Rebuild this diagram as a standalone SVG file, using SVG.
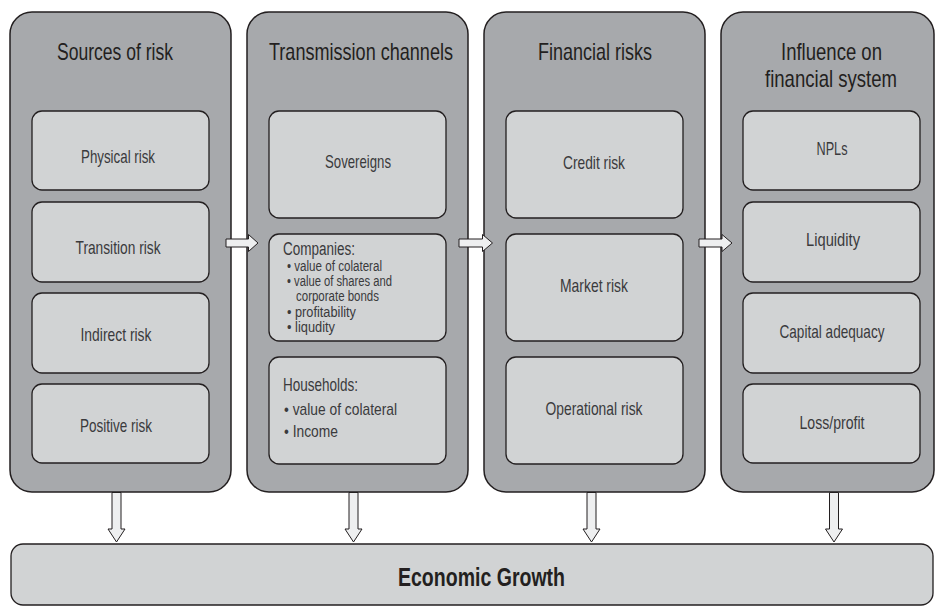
<svg xmlns="http://www.w3.org/2000/svg" width="935" height="607" viewBox="0 0 935 607">
<style>
  .col{fill:#a7a9ac;stroke:#231f20;stroke-width:1.5}
  .box{fill:#d1d3d4;stroke:#231f20;stroke-width:1.3}
  .arr{fill:#eeeff0;stroke:#231f20;stroke-width:1}
  text{font-family:"Liberation Sans Narrow","Liberation Sans",Arial,sans-serif}
  .title{font-size:24px;fill:#231f20;text-anchor:middle}
  .lbl{font-size:19px;fill:#3a3a3c;text-anchor:middle}
  .head{font-size:18px;fill:#3a3a3c}
  .head2{font-size:19px;fill:#3a3a3c}
  .item{font-size:14px;fill:#3a3a3c}
  .item2{font-size:17px;fill:#3a3a3c}
  .big{font-size:25px;font-weight:bold;fill:#231f20;text-anchor:middle}
</style>
<rect width="935" height="607" fill="#ffffff"/>

<g id="col-sources">
  <rect class="col" x="10" y="12" width="221" height="480" rx="22"/>
  <text class="title" x="115" y="60" textLength="116" lengthAdjust="spacingAndGlyphs">Sources of risk</text>
  <g id="physical-risk"><rect class="box" x="32" y="111" width="177" height="79" rx="10"/>
    <text class="lbl" x="118" y="163" textLength="74" lengthAdjust="spacingAndGlyphs">Physical risk</text></g>
  <g id="transition-risk"><rect class="box" x="32" y="202" width="177" height="80" rx="10"/>
    <text class="lbl" x="118" y="254" textLength="85" lengthAdjust="spacingAndGlyphs">Transition risk</text></g>
  <g id="indirect-risk"><rect class="box" x="32" y="293" width="177" height="80" rx="10"/>
    <text class="lbl" x="116" y="341" textLength="71" lengthAdjust="spacingAndGlyphs">Indirect risk</text></g>
  <g id="positive-risk"><rect class="box" x="32" y="384" width="177" height="79" rx="10"/>
    <text class="lbl" x="116" y="432" textLength="72" lengthAdjust="spacingAndGlyphs">Positive risk</text></g>
</g>

<g id="col-transmission">
  <rect class="col" x="247" y="12" width="221" height="480" rx="22"/>
  <text class="title" x="361" y="60" textLength="184" lengthAdjust="spacingAndGlyphs">Transmission channels</text>
  <g id="sovereigns"><rect class="box" x="269" y="111" width="177" height="107" rx="10"/>
    <text class="lbl" x="358" y="168" textLength="66" lengthAdjust="spacingAndGlyphs">Sovereigns</text></g>
  <g id="companies"><rect class="box" x="269" y="234" width="177" height="107" rx="10"/>
    <text class="head" x="283" y="254.5" textLength="72" lengthAdjust="spacingAndGlyphs">Companies:</text>
    <text class="item" x="287" y="270.5" textLength="95" lengthAdjust="spacingAndGlyphs">• value of colateral</text>
    <text class="item" x="287" y="285.5" textLength="105" lengthAdjust="spacingAndGlyphs">• value of shares and</text>
    <text class="item" x="296" y="300.5" textLength="83" lengthAdjust="spacingAndGlyphs">corporate bonds</text>
    <text class="item" x="287" y="316.5" textLength="69" lengthAdjust="spacingAndGlyphs">• profitability</text>
    <text class="item" x="287" y="332" textLength="48" lengthAdjust="spacingAndGlyphs">• liqudity</text></g>
  <g id="households"><rect class="box" x="269" y="357" width="177" height="107" rx="10"/>
    <text class="head2" x="283" y="391" textLength="75" lengthAdjust="spacingAndGlyphs">Households:</text>
    <text class="item2" x="284" y="415" textLength="113" lengthAdjust="spacingAndGlyphs">• value of colateral</text>
    <text class="item2" x="284" y="437" textLength="54" lengthAdjust="spacingAndGlyphs">• Income</text></g>
</g>

<g id="col-financial">
  <rect class="col" x="484" y="12" width="221" height="480" rx="22"/>
  <text class="title" x="595" y="60" textLength="114" lengthAdjust="spacingAndGlyphs">Financial risks</text>
  <g id="credit-risk"><rect class="box" x="506" y="111" width="177" height="107" rx="10"/>
    <text class="lbl" x="594" y="169" textLength="62" lengthAdjust="spacingAndGlyphs">Credit risk</text></g>
  <g id="market-risk"><rect class="box" x="506" y="234" width="177" height="107" rx="10"/>
    <text class="lbl" x="594" y="292" textLength="68" lengthAdjust="spacingAndGlyphs">Market risk</text></g>
  <g id="operational-risk"><rect class="box" x="506" y="357" width="177" height="107" rx="10"/>
    <text class="lbl" x="594" y="415" textLength="97" lengthAdjust="spacingAndGlyphs">Operational risk</text></g>
</g>

<g id="col-influence">
  <rect class="col" x="721" y="12" width="213" height="480" rx="22"/>
  <text class="title" x="831.5" y="60" textLength="101" lengthAdjust="spacingAndGlyphs">Influence on</text>
  <text class="title" x="831" y="87" textLength="132" lengthAdjust="spacingAndGlyphs">financial system</text>
  <g id="npls"><rect class="box" x="743" y="111" width="177" height="79" rx="10"/>
    <text class="lbl" x="832" y="155" textLength="31" lengthAdjust="spacingAndGlyphs">NPLs</text></g>
  <g id="liquidity"><rect class="box" x="743" y="202" width="177" height="80" rx="10"/>
    <text class="lbl" x="833" y="246" textLength="54" lengthAdjust="spacingAndGlyphs">Liquidity</text></g>
  <g id="capital-adequacy"><rect class="box" x="743" y="293" width="177" height="80" rx="10"/>
    <text class="lbl" x="832" y="338" textLength="105" lengthAdjust="spacingAndGlyphs">Capital adequacy</text></g>
  <g id="loss-profit"><rect class="box" x="743" y="384" width="177" height="79" rx="10"/>
    <text class="lbl" x="832" y="429" textLength="65" lengthAdjust="spacingAndGlyphs">Loss/profit</text></g>
</g>

<g id="economic-growth">
  <rect class="box" x="11" y="544" width="922" height="61" rx="12"/>
  <text class="big" x="481.5" y="586" textLength="167" lengthAdjust="spacingAndGlyphs">Economic Growth</text>
</g>

<g id="connectors">
  <polygon class="arr" points="226,239 248.5,239 248.5,234.5 258,243 248.5,251.5 248.5,247 226,247"/>
  <polygon class="arr" points="459,239 482.5,239 482.5,234.5 492.5,243 482.5,251.5 482.5,247 459,247"/>
  <polygon class="arr" points="699,239 722,239 722,234.5 732,243 722,251.5 722,247 699,247"/>
  <polygon class="arr" points="112,492.5 121,492.5 121,529 125,529 116.5,542 108,529 112,529"/>
  <polygon class="arr" points="349,492.5 358,492.5 358,529 362,529 353.5,542 345,529 349,529"/>
  <polygon class="arr" points="587,492.5 596,492.5 596,529 600,529 591.5,542 583,529 587,529"/>
  <polygon class="arr" points="829.5,492.5 838.5,492.5 838.5,529 842.5,529 834,542 825.5,529 829.5,529"/>
</g>
</svg>
